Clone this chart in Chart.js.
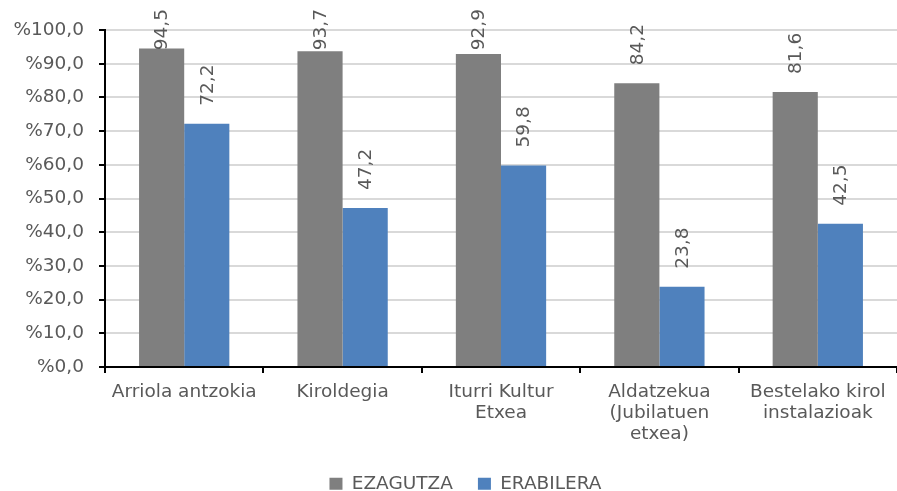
<!DOCTYPE html>
<html>
<head>
<meta charset="utf-8">
<script src="https://cdn.jsdelivr.net/npm/chart.js@4/dist/chart.umd.min.js"></script>
<style>
  html, body { margin: 0; padding: 0; background: #fff; overflow: hidden; }
  #wrap { position: relative; width: 897px; height: 491px; }
</style>
</head>
<body>
<div id="wrap"><canvas id="c"></canvas></div>
<script>
const categories = [
  "Arriola antzokia",
  "Kiroldegia",
  ["Iturri Kultur", "Etxea"],
  ["Aldatzekua", "(Jubilatuen", "etxea)"],
  ["Bestelako kirol", "instalazioak"]
];
const seriesNames = ["EZAGUTZA", "ERABILERA"];
const ezagutza = [94.5, 93.7, 92.9, 84.2, 81.6];
const erabilera = [72.2, 47.2, 59.8, 23.8, 42.5];
const yTicks = [0, 10, 20, 30, 40, 50, 60, 70, 80, 90, 100];

const FONT = "'DejaVu Sans', Verdana, sans-serif";
const FS = 18.5;
const TXT = "#595959";

function fmt(v) { return v.toFixed(1).replace('.', ','); }

const labelPlugin = {
  id: 'rotLabels',
  afterDatasetsDraw(chart) {
    const ctx = chart.ctx;
    ctx.save();
    ctx.font = FS + "px " + FONT;
    ctx.fillStyle = TXT;
    ctx.textBaseline = 'middle';
    ctx.textAlign = 'left';
    chart.data.datasets.forEach((ds, di) => {
      const meta = chart.getDatasetMeta(di);
      meta.data.forEach((bar, i) => {
        const t = fmt(ds.data[i]);
        const w = ctx.measureText(t).width;
        let start = bar.y - 18;
        if (start - w < 9) start = 9 + w;
        ctx.save();
        ctx.translate(bar.x + 1, start);
        ctx.rotate(-Math.PI / 2);
        ctx.fillText(t, 0, 0);
        ctx.restore();
      });
    });
    ctx.restore();
  }
};

// shift the legend block slightly right, as in the reference
const legendShift = {
  id: 'legendShift',
  afterLayout(chart) {
    const lg = chart.legend;
    if (!lg) return;
    lg.left += 17;
    lg.right += 17;
    if (lg.adjustHitBoxes) lg.adjustHitBoxes();
  }
};

new Chart(document.getElementById('c'), {
  type: 'bar',
  data: {
    labels: categories,
    datasets: [
      { label: seriesNames[0], data: ezagutza, backgroundColor: '#7f7f7f', borderWidth: 0 },
      { label: seriesNames[1], data: erabilera, backgroundColor: '#4f81bd', borderWidth: 0 }
    ]
  },
  options: {
    responsive: true,
    maintainAspectRatio: false,
    animation: false,
    devicePixelRatio: 1,
    layout: { padding: { top: 30, right: 0, left: 0, bottom: -12 } },
    datasets: { bar: { categoryPercentage: 0.57, barPercentage: 1.0 } },
    plugins: {
      tooltip: { enabled: false },
      legend: {
        position: 'bottom',
        labels: {
          font: { family: FONT, size: FS, lineHeight: 1 },
          color: TXT,
          boxWidth: 13,
          boxHeight: 12,
          padding: 25
        }
      }
    },
    scales: {
      x: {
        afterFit(s) { s.height = 82.5; },
        border: { display: true, color: '#000', width: 2 },
        grid: { display: true, drawOnChartArea: false, drawTicks: true, tickLength: 6, color: '#000', tickColor: '#000', lineWidth: 2, offset: true },
        ticks: { font: { family: FONT, size: FS, lineHeight: 1.12 }, color: TXT, padding: 9, maxRotation: 0, autoSkip: false }
      },
      y: {
        min: 0, max: 100,
        afterFit(s) { s.width = 105; },
        afterBuildTicks(s) { s.ticks = yTicks.map(v => ({ value: v })); },
        border: { display: true, color: '#000', width: 2 },
        grid: { color: '#d9d9d9', lineWidth: 2, tickColor: '#000', tickLength: 6, drawTicks: true },
        ticks: {
          font: { family: FONT, size: FS },
          color: TXT,
          padding: 15,
          callback: v => '%' + fmt(v)
        }
      }
    }
  },
  plugins: [labelPlugin, legendShift]
});
</script>
</body>
</html>
